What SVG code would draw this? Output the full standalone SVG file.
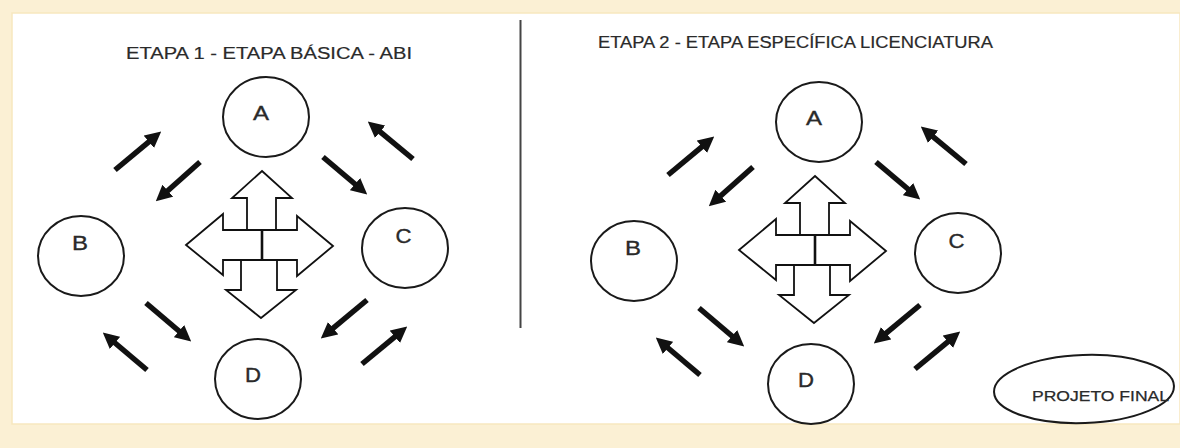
<svg xmlns="http://www.w3.org/2000/svg" width="1180" height="448" viewBox="0 0 1180 448">
  <style>
    .title { font-family: "Liberation Sans", Arial, sans-serif; font-size: 16px; fill: #2a2a2a; stroke: #2a2a2a; stroke-width: 0.2; }
    .node ellipse { fill: #fff; stroke: #1a1a1a; stroke-width: 2; }
    .node text { font-family: "Liberation Sans", Arial, sans-serif; font-size: 20px; fill: #2a2a2a; stroke: #2a2a2a; stroke-width: 0.35; text-anchor: middle; }
    .arr { stroke: #111; stroke-width: 5.5; fill: none; marker-end: url(#ah); }
    .final ellipse { fill: #fff; stroke: #1a1a1a; stroke-width: 2; }
    .final text { font-family: "Liberation Sans", Arial, sans-serif; font-size: 15px; fill: #2a2a2a; stroke: #2a2a2a; stroke-width: 0.25; }
  </style>
  <defs>
    <marker id="ah" viewBox="0 0 16 16" refX="3" refY="8" markerWidth="16" markerHeight="16" markerUnits="userSpaceOnUse" orient="auto">
      <path d="M0,0 L16,8 L0,16 z" fill="#111"/>
    </marker>
    <g id="hubshape" fill="#ffffff" stroke="#111111" stroke-width="1.8" stroke-linejoin="miter">
      <polygon points="262,171 292,198 276,198 276,230 247,230 247,198 232,198"/>
      <polygon points="186,245 223,214 223,230 262,230 262,260 223,260 223,275"/>
      <polygon points="333,246 297,216 297,230 262,230 262,260 297,260 297,276"/>
      <polygon points="261,318 296,290 277,290 277,260 241,260 241,290 226,290"/>
      <line x1="262" y1="230" x2="262" y2="260" stroke-width="2.6"/>
    </g>
    <g id="arrowset">
      <line x1="115" y1="170" x2="151.2" y2="139.9"/>
      <line x1="200" y1="162" x2="165.5" y2="192.7"/>
      <line x1="323" y1="157" x2="357.3" y2="186"/>
      <line x1="413" y1="159" x2="377.8" y2="129.9"/>
      <line x1="146" y1="303" x2="181.3" y2="333"/>
      <line x1="147" y1="370" x2="112.7" y2="341"/>
      <line x1="367" y1="300" x2="330.8" y2="330.1"/>
      <line x1="362" y1="364" x2="397.2" y2="334.9"/>
    </g>
  </defs>

  <!-- background -->
  <rect x="0" y="0" width="1180" height="448" fill="#fbf0d4"/>
  <rect x="12" y="13" width="1168" height="411" fill="#ffffff" stroke="#f7e7bf" stroke-width="1.5"/>

  <!-- divider -->
  <line x1="520.5" y1="20" x2="520.5" y2="328" stroke="#444" stroke-width="2"/>

  <!-- titles -->
  <text class="title" x="126" y="59" textLength="286" lengthAdjust="spacingAndGlyphs">ETAPA 1 - ETAPA BÁSICA - ABI</text>
  <text class="title" x="598" y="48" textLength="395" lengthAdjust="spacingAndGlyphs">ETAPA 2 - ETAPA ESPECÍFICA LICENCIATURA</text>

  <!-- Panel 1 -->
  <g id="connectors-1" class="arr">
    <use href="#arrowset"/>
  </g>
  <g id="hub-1">
    <use href="#hubshape"/>
  </g>
  <g id="node-A1" class="node">
    <ellipse cx="266" cy="117" rx="43" ry="40"/>
    <text x="261" y="119.5" textLength="16" lengthAdjust="spacingAndGlyphs">A</text>
  </g>
  <g id="node-B1" class="node">
    <ellipse cx="81" cy="256" rx="43" ry="40"/>
    <text x="80" y="250" textLength="16" lengthAdjust="spacingAndGlyphs">B</text>
  </g>
  <g id="node-C1" class="node">
    <ellipse cx="405" cy="248" rx="43" ry="40"/>
    <text x="403.5" y="242.5" textLength="16" lengthAdjust="spacingAndGlyphs">C</text>
  </g>
  <g id="node-D1" class="node">
    <ellipse cx="258" cy="379" rx="43" ry="40"/>
    <text x="253" y="381.5" textLength="16" lengthAdjust="spacingAndGlyphs">D</text>
  </g>

  <!-- Panel 2 -->
  <g id="panel-2" transform="translate(553,5)">
    <g id="connectors-2" class="arr">
      <use href="#arrowset"/>
    </g>
    <g id="hub-2">
      <use href="#hubshape"/>
    </g>
    <g id="node-A2" class="node">
      <ellipse cx="266" cy="117" rx="43" ry="40"/>
      <text x="261" y="119.5" textLength="16" lengthAdjust="spacingAndGlyphs">A</text>
    </g>
    <g id="node-B2" class="node">
      <ellipse cx="81" cy="256" rx="43" ry="40"/>
      <text x="80" y="250" textLength="16" lengthAdjust="spacingAndGlyphs">B</text>
    </g>
    <g id="node-C2" class="node">
      <ellipse cx="405" cy="248" rx="43" ry="40"/>
      <text x="403.5" y="242.5" textLength="16" lengthAdjust="spacingAndGlyphs">C</text>
    </g>
    <g id="node-D2" class="node">
      <ellipse cx="258" cy="379" rx="43" ry="40"/>
      <text x="253" y="381.5" textLength="16" lengthAdjust="spacingAndGlyphs">D</text>
    </g>
  </g>

  <!-- Projeto final -->
  <g id="node-final" class="final">
    <ellipse cx="1084" cy="389" rx="90" ry="34" transform="rotate(-2 1084 389)"/>
    <text x="1032" y="401" textLength="137" lengthAdjust="spacingAndGlyphs">PROJETO FINAL</text>
  </g>
</svg>
